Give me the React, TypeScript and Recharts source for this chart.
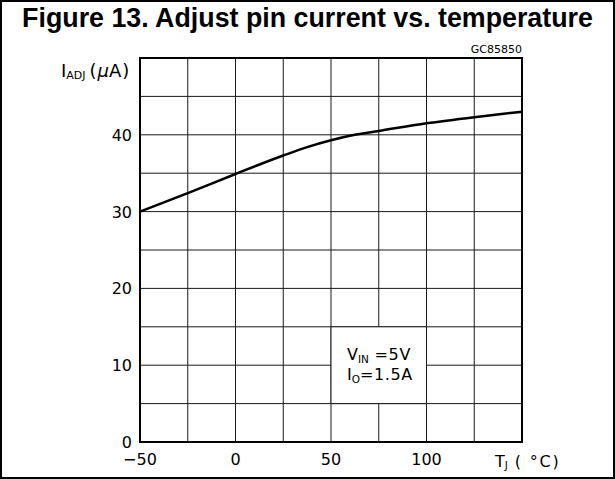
import { LineChart, Line, XAxis, YAxis, CartesianGrid, ReferenceArea, Customized } from 'recharts';

// junction temperature (°C) and adjust pin current (µA)
const temperature = [-50, -25, 0, 25, 37.5, 50, 62.5, 75, 100, 125, 150];
const adjCurrent = [30, 32.4, 34.9, 37.3, 38.4, 39.3, 40.0, 40.5, 41.5, 42.3, 43.0];

const xGridTicks = [-50, -25, 0, 25, 50, 75, 100, 125, 150];
const xLabelTicks = [-50, 0, 50, 100];
const yGridTicks = [0, 5, 10, 15, 20, 25, 30, 35, 40, 45, 50];
const yLabelTicks = [0, 10, 20, 30, 40];

const data = temperature.map((t, i) => ({ t, iadj: adjCurrent[i] }));

const FONT = '"DejaVu Sans", sans-serif';

const fmt = (v: number) => (v < 0 ? '\u2212' + Math.abs(v) : String(v));

const XTick = ({ x, y, payload }: any) => {
  if (!xLabelTicks.includes(payload.value)) return <g />;
  return (
    <text x={x} y={y + 23} textAnchor="middle" fontFamily={FONT} fontSize={16} fill="#000">
      {fmt(payload.value)}
    </text>
  );
};

const YTick = ({ x, y, payload }: any) => {
  if (!yLabelTicks.includes(payload.value)) return <g />;
  return (
    <text x={x - 8} y={y + 6} textAnchor="end" fontFamily={FONT} fontSize={16} fill="#000">
      {payload.value}
    </text>
  );
};

// conditions note inside the blanked cell
const ConditionsLabel = ({ viewBox }: any) => {
  const { x, y } = viewBox;
  return (
    <g fontFamily={FONT} fill="#000" fontSize={16}>
      <text x={x + 16} y={y + 33}>
        <tspan>V</tspan>
        <tspan fontSize={10.5} dy={3}>IN</tspan>
        <tspan dy={-3} letterSpacing={0.6}> =5V</tspan>
      </text>
      <text x={x + 16} y={y + 53}>
        <tspan>I</tspan>
        <tspan fontSize={10.5} dy={3}>O</tspan>
        <tspan dy={-3} letterSpacing={0.6}>=1.5A</tspan>
      </text>
    </g>
  );
};

const Labels = () => (
  <g fontFamily={FONT} fill="#000">
    <text
      x={307.5}
      y={27}
      textAnchor="middle"
      fontFamily='"Liberation Sans", Arial, sans-serif'
      fontWeight="bold"
      fontSize={26.8}
    >
      Figure 13. Adjust pin current vs. temperature
    </text>
    <text x={522} y={53} textAnchor="end" fontSize={11}>
      GC85850
    </text>
    <text x={61} y={77} fontSize={18}>
      <tspan>I</tspan>
      <tspan fontSize={11} dy={2}>ADJ</tspan>
      <tspan dy={-2} dx={4} letterSpacing={1}>(</tspan>
      <tspan fontStyle="italic">μ</tspan>
      <tspan letterSpacing={1}>A)</tspan>
    </text>
    <text x={495} y={467} fontSize={16}>
      <tspan>T</tspan>
      <tspan fontSize={10.5} dy={2}>J</tspan>
      <tspan dy={-2} letterSpacing={1.8}> ( °C)</tspan>
    </text>
  </g>
);

export default function App() {
  return (
    <div style={{ position: 'absolute', left: 0, top: 0, width: 615, height: 479, background: '#fff' }}>
      <LineChart width={615} height={479} data={data} margin={{ top: 58, right: 93, bottom: 7, left: 0 }}>
        <CartesianGrid stroke="#1a1a1a" strokeWidth={1} />
        <XAxis
          dataKey="t"
          type="number"
          domain={[-50, 150]}
          ticks={xGridTicks}
          interval={0}
          axisLine={false}
          tickLine={false}
          tickSize={0}
          tickMargin={0}
          height={30}
          tick={<XTick />}
        />
        <YAxis
          type="number"
          domain={[0, 50]}
          ticks={yGridTicks}
          interval={0}
          axisLine={false}
          tickLine={false}
          tickSize={0}
          tickMargin={0}
          width={140}
          tick={<YTick />}
        />
        <ReferenceArea
          x1={50}
          x2={100}
          y1={5}
          y2={15}
          fill="#fff"
          fillOpacity={1}
          stroke="#1a1a1a"
          strokeWidth={1}
          label={<ConditionsLabel />}
        />
        <ReferenceArea x1={-50} x2={150} y1={0} y2={50} fill="none" stroke="#000" strokeWidth={2} />
        <Line
          type="monotone"
          dataKey="iadj"
          stroke="#000"
          strokeWidth={2.5}
          dot={false}
          activeDot={false}
          isAnimationActive={false}
        />
        <Customized component={Labels} />
      </LineChart>
      <div
        style={{
          position: 'absolute',
          left: 0,
          top: 0,
          width: 615,
          height: 479,
          boxSizing: 'border-box',
          border: '2px solid #000',
          pointerEvents: 'none',
        }}
      />
    </div>
  );
}
